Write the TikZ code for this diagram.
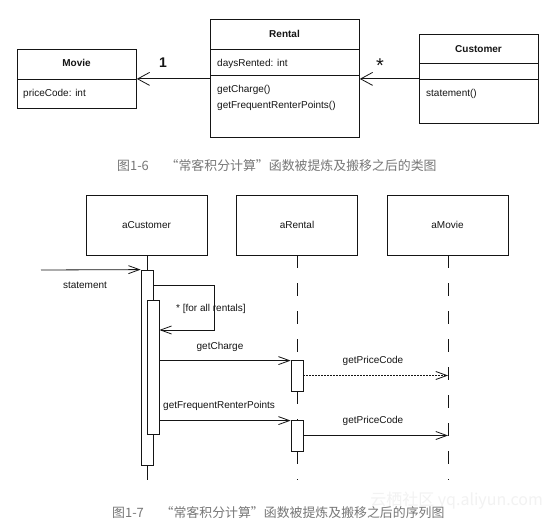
\documentclass[tikz,border=0pt]{standalone}
\usepackage{fontspec}
\setmainfont{Liberation Sans}
\newfontfamily\cjk{Noto Sans CJK SC}
\usetikzlibrary{arrows.meta}
\definecolor{ink}{HTML}{151515}
\definecolor{capgray}{HTML}{777777}
\tikzset{
  txt/.style={font=\fontsize{10}{12}\selectfont, text=ink, inner sep=0pt},
  ttl/.style={font=\fontsize{10}{12}\selectfont\bfseries, text=ink, inner sep=0pt},
  ln/.style={draw=ink, line width=0.8pt},
  classbox/.style={ln, anchor=north west, inner sep=0pt},
  objbox/.style={ln, inner sep=0pt, minimum width=121pt, minimum height=60pt,
     font=\fontsize{10}{12}\selectfont, text=ink},
  actbar/.style={ln, fill=white, inner sep=0pt, minimum width=12pt},
  classarrow/.style={ln, -{Straight Barb[length=12pt,width=13pt]}},
  msg/.style={ln, -{Straight Barb[length=11pt,width=8pt]}},
  lifedash/.style={ln, dash pattern=on 13pt off 15pt},
  captext/.style={font=\cjk\fontsize{12.9}{14}\selectfont, text=capgray, inner sep=0pt},
}
\begin{document}
\begin{tikzpicture}[x=1pt,y=-1pt]
\useasboundingbox[fill=white] (0,0) rectangle (556,521);

% ---------------- class diagram ----------------
\node[classbox, minimum width=119pt, minimum height=59pt] (movie) at (17,49) {};
\draw[ln] (17,79) -- (136,79);
\node[ttl, anchor=base] (movieT) at (76.5,66.5) {Movie};
\node[txt, anchor=base west] (movieA) at (23,96.5) {priceCode: int};

\node[classbox, minimum width=149pt, minimum height=118pt] (rental) at (210,19) {};
\draw[ln] (210,49) -- (359,49);
\draw[ln] (210,75) -- (359,75);
\node[ttl, anchor=base] (rentalT) at (284.5,37.5) {Rental};
\node[txt, anchor=base west] (rentalA) at (217,66.5) {daysRented: int};
\node[txt, anchor=base west] (rentalM1) at (217,93) {getCharge()};
\node[txt, anchor=base west] (rentalM2) at (217,108.5) {getFrequentRenterPoints()};

\node[classbox, minimum width=119pt, minimum height=89pt] (customer) at (419,34) {};
\draw[ln] (419,63) -- (538,63);
\draw[ln] (419,79) -- (538,79);
\node[ttl, anchor=base] (customerT) at (478.5,52.5) {Customer};
\node[txt, anchor=base west] (customerM) at (426,96.5) {statement()};

\draw[classarrow] (rental.west |- movie.east) -- (movie.east);
\draw[classarrow] (customer.west |- movie.east) -- (rental.east |- movie.east);
\node[font=\fontsize{14}{16}\selectfont\bfseries, text=ink, inner sep=0pt] (one) at (163,63) {1};
\node[font=\fontsize{20}{20}\selectfont, text=ink, inner sep=0pt] (star) at (380,66) {*};

\node[captext, anchor=base west] (cap1) at (117,171) {图1-6\hspace{1.3em}“常客积分计算”函数被提炼及搬移之后的类图};

% ---------------- sequence diagram ----------------
\node[objbox] (acust) at (146.5,225) {aCustomer};
\node[objbox] (arent) at (297,225) {aRental};
\node[objbox] (amov) at (447.5,225) {aMovie};

\coordinate (cend) at (147,480);
\coordinate (rend) at (297,480);
\coordinate (mend) at (448,480);
\coordinate (instart) at (41,270);
\coordinate (loopA) at (214,285);
\coordinate (loopB) at (214,330);

\node[actbar, minimum height=195pt] (ob) at (147,367.5) {};
\node[actbar, minimum height=31pt] (rb1) at (297,375.5) {};
\node[actbar, minimum height=31pt] (rb2) at (297,435.5) {};

\draw[ln] (acust.south -| ob.north) -- (ob.north);
\draw[ln] (ob.south) -- (cend);
\draw[lifedash] (arent.south) -- (rb1.north);
\draw[lifedash] (rb1.south) -- (rb2.north);
\draw[lifedash] (rb2.south) -- (rend);
\draw[lifedash] (amov.south -| mend) -- (mend);

\node[actbar, minimum height=31pt] at (rb1) {};
\node[actbar, minimum height=31pt] at (rb2) {};
\node[actbar, minimum height=195pt] at (ob) {};
\node[actbar, minimum height=134pt] (ib) at (153,367) {};

\draw[msg] (instart) -- (ob.north west);
\node[txt, anchor=base] (lstatement) at (85,288.5) {statement};

\draw[msg] (ob.east |- loopA) -- (loopA) -- (loopB) -- (ib.east |- loopB);
\node[txt, anchor=base west] (lloop) at (176,311.5) {* [for all rentals]};

\draw[msg] (ib.east |- rb1.north west) ++(0,1) -- ([yshift=-1pt]rb1.north west);
\node[txt, anchor=base] (lcharge) at (220,349.5) {getCharge};

\draw[msg, dash pattern=on 2pt off 1pt] (rb1.east) -- (mend |- rb1.east);
\node[txt, anchor=base] (lprice1) at (373,363.5) {getPriceCode};

\draw[msg] (ib.east |- rb2.north west) ++(0,1) -- ([yshift=-1pt]rb2.north west);
\node[txt, anchor=base west] (lfrp) at (163,408.5) {getFrequentRenterPoints};

\draw[msg] (rb2.east) -- (mend |- rb2.east);
\node[txt, anchor=base] (lprice2) at (373,423.5) {getPriceCode};

\node[font=\cjk\fontsize{16}{18}\selectfont, text=gray!10, inner sep=0pt, anchor=base east] (wm) at (543,505) {云栖社区 yq.aliyun.com};
\node[captext, anchor=base west] (cap2) at (112,517) {图1-7\hspace{1.3em}“常客积分计算”函数被提炼及搬移之后的序列图};
\end{tikzpicture}
\end{document}
